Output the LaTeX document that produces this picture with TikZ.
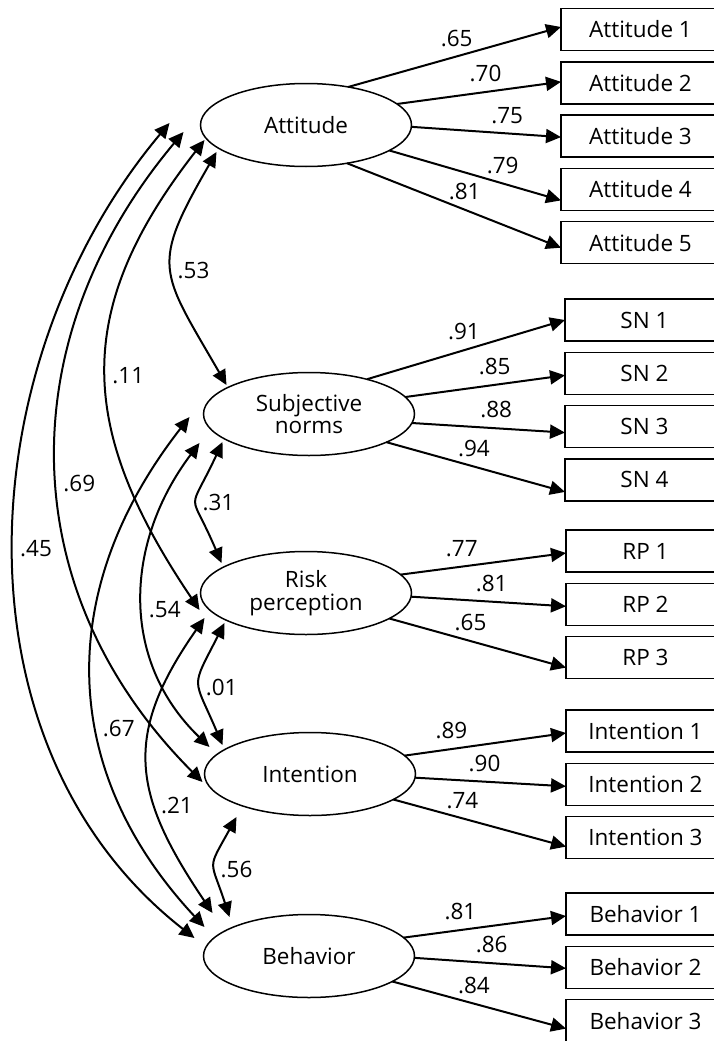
\documentclass[tikz,border=0pt]{standalone}
\usepackage{fontspec}
\setmainfont{Open Sans}
\usetikzlibrary{arrows.meta,positioning,shapes.geometric}

\begin{document}
\begin{tikzpicture}[x=1pt,y=1pt,node distance=11.3pt]
	% Define node styles
	\tikzstyle{latent} = [ellipse, draw, line width=1.5pt, minimum width=211pt, minimum height=83pt, inner sep=0pt, outer sep=0pt, align=center, font=\fontsize{22.5}{22.5}\selectfont];
	\tikzstyle{item} = [rectangle, draw, line width=1.5pt, minimum width=159pt, minimum height=42pt, outer sep=0pt, font=\fontsize{22.5}{22.5}\selectfont];
	\tikzstyle{load} = [-{Triangle[length=15pt,width=14pt]}, line width=2pt];
	\tikzstyle{corr} = [{Triangle[length=15pt,width=14pt]}-{Triangle[length=15pt,width=14pt]}, line width=2pt];
	\tikzstyle{loadlabel} = [font=\fontsize{22.5}{22.5}\selectfont, inner sep=2pt, above=7pt];
	\tikzstyle{corrlabel} = [font=\fontsize{22.5}{22.5}\selectfont, inner sep=2pt, right=3pt];

	\useasboundingbox (0,0) rectangle (714,-1041);

	% Latent variables
	\node[latent] (att) at (306,-125) {Attitude};
	\node[latent] (sn) at (309,-414) {Subjective\\norms};
	\node[latent] (rp) at (306,-593) {Risk\\perception};
	\node[latent] (intent) at (310,-774) {Intention};
	\node[latent] (beh) at (309,-956) {Behavior};

	% Observed items
	\node[item, anchor=west] (a1) at (561,-29.5) {Attitude 1};
	\node[item, below=of a1] (a2) {Attitude 2};
	\node[item, below=of a2] (a3) {Attitude 3};
	\node[item, below=of a3] (a4) {Attitude 4};
	\node[item, below=of a4] (a5) {Attitude 5};

	\node[item, anchor=west] (sn1) at (565,-320) {SN 1};
	\node[item, below=of sn1] (sn2) {SN 2};
	\node[item, below=of sn2] (sn3) {SN 3};
	\node[item, below=of sn3] (sn4) {SN 4};

	\node[item, anchor=west] (rp1) at (566,-551) {RP 1};
	\node[item, below=of rp1] (rp2) {RP 2};
	\node[item, below=of rp2] (rp3) {RP 3};

	\node[item, anchor=west] (i1) at (566,-731) {Intention 1};
	\node[item, below=of i1] (i2) {Intention 2};
	\node[item, below=of i2] (i3) {Intention 3};

	\node[item, anchor=west] (b1) at (566,-914) {Behavior 1};
	\node[item, below=of b1] (b2) {Behavior 2};
	\node[item, below=of b2] (b3) {Behavior 3};

	% Factor loadings
	\draw[load] (att.42) -- node[loadlabel, pos=0.51] {.65} ([yshift=2.5]a1.west);
	\draw[load] (att.13) -- node[loadlabel, pos=0.54] {.70} ([yshift=1]a2.west);
	\draw[load] (att.-1) -- node[loadlabel, pos=0.64] {.75} ([yshift=-1]a3.west);
	\draw[load] (att.-17) -- node[loadlabel, pos=0.66] {.79} ([yshift=-11]a4.west);
	\draw[load] (att.-43) -- node[loadlabel, pos=0.55] {.81} ([yshift=-5]a5.west);

	\draw[load] (sn.31) -- node[loadlabel, pos=0.49] {.91} (sn1.west);
	\draw[load] (sn.10) -- node[loadlabel, pos=0.56] {.85} ([yshift=-2]sn2.west);
	\draw[load] (sn.-5) -- node[loadlabel, pos=0.55] {.88} ([yshift=-6]sn3.west);
	\draw[load] (sn.-20) -- node[loadlabel, pos=0.49] {.94} ([yshift=-12]sn4.west);

	\draw[load] (rp.11) -- node[loadlabel, pos=0.37] {.77} ([yshift=-2]rp1.west);
	\draw[load] (rp.-2) -- node[loadlabel, pos=0.52] {.81} ([yshift=-2]rp2.west);
	\draw[load] (rp.-17) -- node[loadlabel, pos=0.46] {.65} ([yshift=-10]rp3.west);

	\draw[load] (intent.11) -- node[loadlabel, pos=0.29] {.89} ([yshift=-2]i1.west);
	\draw[load] (intent.-2) -- node[loadlabel, pos=0.46] {.90} ([yshift=-2]i2.west);
	\draw[load] (intent.-17) -- node[loadlabel, pos=0.40] {.74} ([yshift=-9]i3.west);

	\draw[load] (beh.11) -- node[loadlabel, pos=0.35] {.81} ([yshift=-2]b1.west);
	\draw[load] (beh.-1) -- node[loadlabel, pos=0.51] {.86} ([yshift=-1]b2.west);
	\draw[load] (beh.-17) -- node[loadlabel, pos=0.47] {.84} ([yshift=-8]b3.west);

	% Correlations between latent variables
	\draw[corr] ([shift={(16,-27)}]att.west) to[out=240, in=120, looseness=1.46] node[corrlabel, pos=0.51] {.53} ([shift={(23,29)}]sn.west);
	\draw[corr] ([shift={(4,-15)}]att.west) to[out=232, in=124, looseness=1.18] node[corrlabel, pos=0.51] {.11} ([shift={(-1,-17)}]rp.west);
	\draw[corr] ([shift={(-17,-7)}]att.west) to[out=230, in=135, looseness=1.06] node[corrlabel, pos=0.53] {.69} ([shift={(-2,-8)}]intent.west);
	\draw[corr] ([shift={(-31,2)}]att.west) to[out=230, in=142, looseness=0.98] node[corrlabel, pos=0.50] {.45} ([shift={(-9,18)}]beh.west);

	\draw[corr] ([shift={(19,-28)}]sn.west) to[out=245, in=113, looseness=1.76] node[corrlabel, pos=0.50] {.31} ([shift={(21,30)}]rp.west);
	\draw[corr] ([shift={(-4,-29)}]sn.west) to[out=233, in=136, looseness=1.05] node[corrlabel, pos=0.53] {.54} ([shift={(5,27)}]intent.west);
	\draw[corr] ([shift={(-14,-3)}]sn.west) to[out=232, in=133, looseness=1.085] node[corrlabel, pos=0.60] {.67} ([shift={(1,29)}]beh.west);

	\draw[corr] ([shift={(24,-30)}]rp.west) to[out=243, in=113, looseness=1.58] node[corrlabel, pos=0.55] {.01} ([shift={(18,29)}]intent.west);
	\draw[corr] ([shift={(4,-25)}]rp.west) to[out=235, in=124, looseness=1.24] node[corrlabel, pos=0.65] {.21} ([shift={(9,43)}]beh.west);

	\draw[corr] ([shift={(32,-43)}]intent.west) to[out=241, in=108, looseness=1.58] node[corrlabel, pos=0.56] {.56} ([shift={(26,39)}]beh.west);
\end{tikzpicture}
\end{document}
